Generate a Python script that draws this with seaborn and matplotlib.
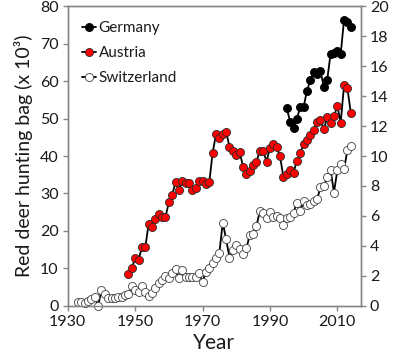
import numpy as np
import pandas as pd
import seaborn as sns
import matplotlib.pyplot as plt

# Red deer hunting bag, thousands of animals
years_germany = np.arange(1995, 2015)
germany = [52.7, 49.2, 47.6, 49.8, 53.2, 53.2, 57.4, 60.3, 62.3, 62.0,
           62.8, 58.3, 60.3, 67.3, 67.5, 67.9, 67.2, 76.4, 75.8, 74.5]

years_austria = np.arange(1948, 2015)
austria = [8.5, 10.1, 12.7, 12.3, 15.6, 15.6, 21.8, 21.0, 23.1, 24.4,
           23.6, 23.8, 27.6, 29.6, 33.1, 30.9, 33.4, 32.9, 32.9, 31.0,
           31.5, 33.4, 33.2, 32.4, 33.0, 40.9, 45.8, 44.8, 45.8, 46.5,
           42.5, 41.3, 40.2, 41.2, 37.2, 35.3, 35.9, 37.6, 38.5, 41.4,
           41.4, 38.5, 42.2, 43.2, 42.4, 39.9, 34.4, 35.3, 36.4, 35.6,
           38.7, 40.7, 43.3, 44.4, 45.5, 47.0, 49.0, 49.6, 47.1, 50.3,
           48.9, 50.6, 53.4, 48.9, 58.9, 58.1, 51.5]

# Switzerland is read on the right-hand axis
years_switzerland = np.arange(1933, 2015)
switzerland = [0.27, 0.29, 0.18, 0.33, 0.48, 0.60, 0.00, 1.05, 0.80, 0.50,
               0.52, 0.52, 0.60, 0.57, 0.70, 0.80, 1.30, 1.05, 0.95, 1.30,
               0.90, 0.67, 0.87, 1.22, 1.50, 1.72, 2.02, 1.85, 2.17, 2.47,
               1.85, 2.40, 1.90, 1.90, 1.95, 1.90, 2.17, 1.60, 2.29, 2.53,
               2.84, 3.22, 3.56, 5.56, 4.44, 3.22, 3.73, 4.07, 3.80, 3.47,
               3.84, 4.71, 4.80, 5.33, 6.31, 6.22, 5.87, 6.24, 5.96, 6.00,
               5.84, 5.38, 5.84, 5.96, 6.22, 6.89, 6.31, 7.00, 6.73, 6.78,
               7.02, 7.13, 7.90, 8.00, 8.58, 9.10, 7.56, 9.05, 9.44, 9.12,
               10.40, 10.70]

AXIS_GREY = "#868686"
TEXT = "#1a1a1a"


def main():
    sns.set_style("ticks")
    plt.rcParams["font.family"] = ["Lato", "DejaVu Sans"]

    fig = plt.figure(figsize=(3.94, 3.62), dpi=100, facecolor="white")
    ax = fig.add_axes([0.172, 0.155, 0.744, 0.828])
    ax2 = ax.twinx()

    line_kw = dict(color="black", linewidth=1.3, markersize=5.8,
                   markeredgewidth=0.6, clip_on=False, legend=False)

    df_de = pd.DataFrame({"year": years_germany, "bag": germany})
    df_at = pd.DataFrame({"year": years_austria, "bag": austria})
    df_ch = pd.DataFrame({"year": years_switzerland, "bag": switzerland})

    sns.lineplot(data=df_at, x="year", y="bag", ax=ax, marker="o",
                 markerfacecolor="#ff0000", markeredgecolor="#2a2a2a", **line_kw)
    sns.lineplot(data=df_de, x="year", y="bag", ax=ax, marker="o",
                 markerfacecolor="black", markeredgecolor="black", **line_kw)
    sns.lineplot(data=df_ch, x="year", y="bag", ax=ax2, marker="o",
                 markerfacecolor="white", markeredgecolor="#404040", **line_kw)

    ax.set_xlim(1930, 2017)
    ax.set_ylim(0, 80)
    ax2.set_ylim(0, 20)
    ax.set_xticks(range(1930, 2011, 20))
    ax.set_yticks(range(0, 81, 10))
    ax2.set_yticks(range(0, 21, 2))

    for a in (ax, ax2):
        for s in a.spines.values():
            s.set_color(AXIS_GREY)
            s.set_linewidth(1.0)
        a.tick_params(direction="out", length=3.5, width=1.0, color=AXIS_GREY,
                      labelsize=11.5, labelcolor=TEXT, pad=3)

    ax.set_xlabel("Year", fontsize=15, color=TEXT, labelpad=3)
    ax.set_ylabel("Red deer hunting bag (x 10³)", fontsize=14, color=TEXT, labelpad=5)
    ax2.set_ylabel("")

    # legend with handles from both axes
    handles = ax.get_lines()[::-1] + ax2.get_lines()
    labels = ["Germany", "Austria", "Switzerland"]
    ax2.legend(handles, labels, loc="upper left", bbox_to_anchor=(0.05, 0.95),
               frameon=False, fontsize=11, handlelength=0.9, handletextpad=0.15,
               labelspacing=0.72, borderpad=0, borderaxespad=0, numpoints=1,
               labelcolor=TEXT)

    plt.savefig("out.png", dpi=100, facecolor="white")
    plt.close()


if __name__ == "__main__":
    main()
